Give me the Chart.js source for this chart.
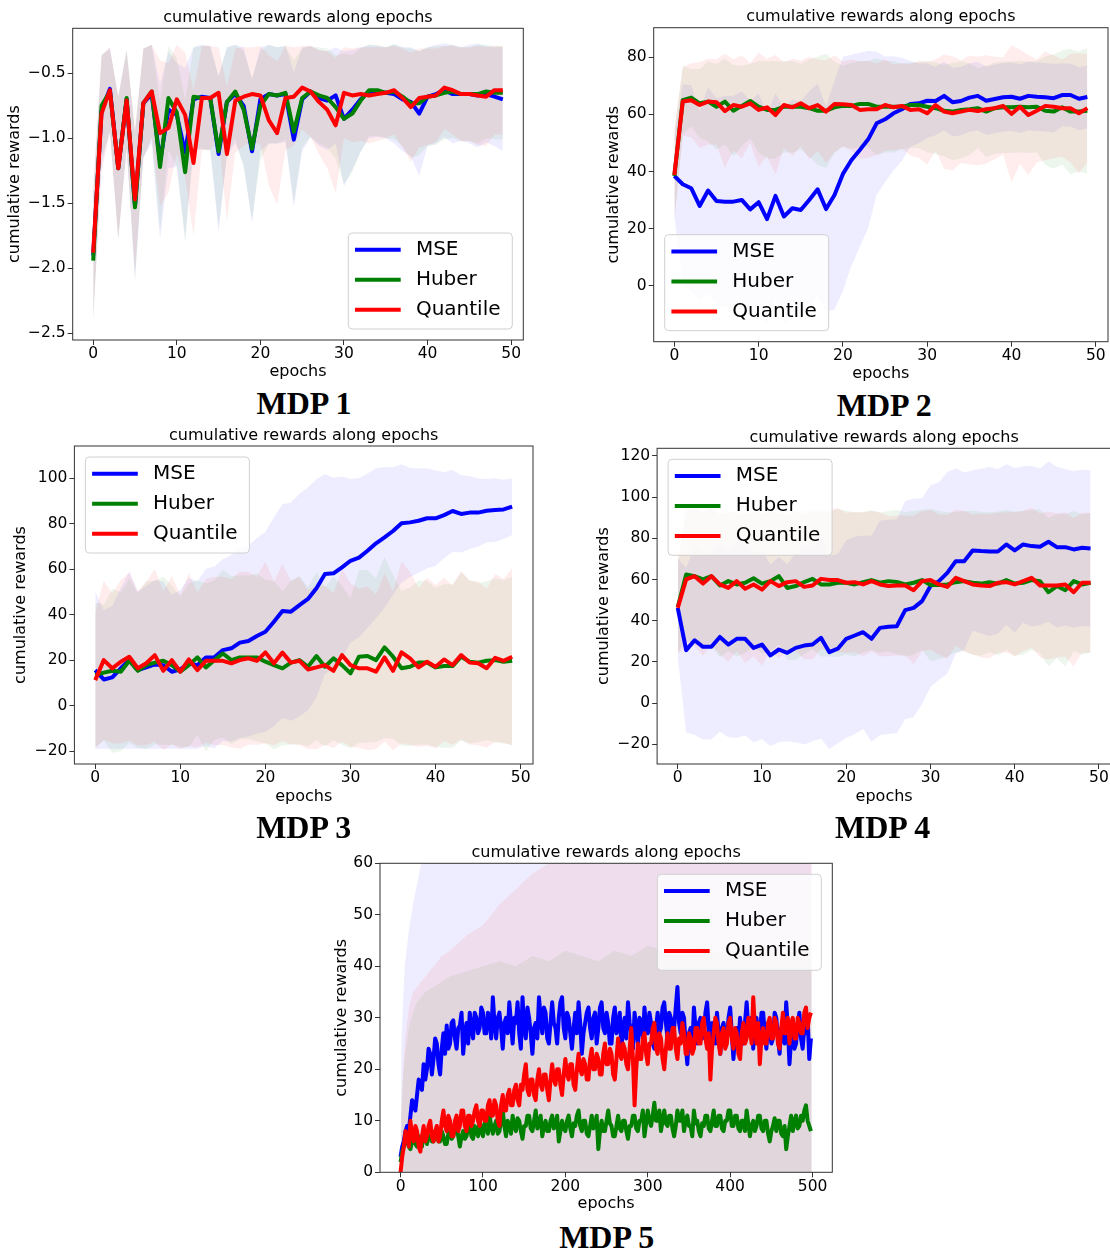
<!DOCTYPE html>
<html>
<head>
<meta charset="utf-8">
<script src="https://cdn.jsdelivr.net/npm/chart.js@4.4.0/dist/chart.umd.min.js"></script>
<style>
  html, body { margin: 0; padding: 0; background: #fff; }
  body { position: relative; width: 1110px; height: 1251px; overflow: hidden; }
  canvas { position: absolute; }
  .cap { position: absolute; font: bold 32px "Liberation Serif", "Times New Roman", serif; line-height: 1;
         color: #000; transform: translate(-50%, -50%); white-space: nowrap; }
</style>
</head>
<body>
<script>
// ---- data ----
const seriesNames = ['MSE', 'Huber', 'Quantile'];
const epochs = Array.from({length: 50}, (_, i) => i);
const epochs5 = Array.from({length: 250}, (_, i) => i * 2);

// MDP 1
const mse1 = [-1.90,-0.79,-0.62,-1.23,-0.70,-1.52,-0.73,-0.66,-1.18,-0.78, -0.82,-1.11,-0.70,-0.68,-0.69,-1.12,-0.72,-0.66,-0.75,-1.10,
  -0.70,-0.66,-0.67,-0.66,-1.01,-0.70,-0.64,-0.69,-0.71,-0.67, -0.85,-0.78,-0.70,-0.64,-0.64,-0.65,-0.66,-0.70,-0.72,-0.81,
  -0.68,-0.66,-0.63,-0.66,-0.66,-0.66,-0.67,-0.66,-0.68,-0.70];
const huber1 = [-1.94,-0.75,-0.64,-1.23,-0.69,-1.53,-0.73,-0.64,-1.22,-0.69, -0.80,-1.26,-0.68,-0.69,-0.69,-1.10,-0.72,-0.64,-0.78,-1.08,
  -0.75,-0.66,-0.67,-0.65,-0.95,-0.69,-0.64,-0.67,-0.69,-0.76, -0.85,-0.81,-0.71,-0.63,-0.63,-0.65,-0.64,-0.68,-0.73,-0.73,
  -0.68,-0.67,-0.65,-0.64,-0.66,-0.66,-0.66,-0.64,-0.65,-0.65];
const quant1 = [-1.88,-0.81,-0.63,-1.23,-0.71,-1.47,-0.73,-0.64,-0.96,-0.92, -0.70,-0.82,-1.19,-0.69,-0.69,-0.65,-1.12,-0.71,-0.68,-0.66,
  -0.67,-0.86,-0.96,-0.69,-0.68,-0.61,-0.64,-0.72,-0.78,-0.90, -0.65,-0.67,-0.66,-0.67,-0.66,-0.65,-0.63,-0.69,-0.76,-0.69,
  -0.68,-0.67,-0.61,-0.63,-0.66,-0.66,-0.67,-0.68,-0.63,-0.63];
const mseStd1 = [0.50,0.42,0.32,0.55,0.38,0.57,0.42,0.38,0.60,0.45, 0.40,0.65,0.40,0.40,0.40,0.60,0.42,0.38,0.45,0.55,
  0.40,0.38,0.37,0.37,0.52,0.40,0.35,0.37,0.38,0.37, 0.52,0.46,0.40,0.36,0.35,0.35,0.38,0.40,0.42,0.48,
  0.38,0.38,0.36,0.38,0.36,0.38,0.40,0.37,0.38,0.40];
const huberStd1 = [0.50,0.40,0.32,0.55,0.38,0.57,0.42,0.36,0.50,0.40, 0.42,0.55,0.38,0.40,0.40,0.58,0.42,0.36,0.45,0.55,
  0.42,0.38,0.37,0.36,0.55,0.38,0.35,0.37,0.38,0.40, 0.50,0.45,0.40,0.35,0.35,0.35,0.37,0.38,0.42,0.40,
  0.38,0.38,0.36,0.36,0.36,0.36,0.38,0.36,0.36,0.36];
const quantStd1 = [0.50,0.45,0.33,0.55,0.38,0.55,0.42,0.36,0.56,0.50, 0.42,0.48,0.56,0.40,0.40,0.35,0.52,0.40,0.38,0.36,
  0.38,0.50,0.55,0.40,0.38,0.32,0.35,0.40,0.45,0.52, 0.35,0.36,0.36,0.37,0.36,0.35,0.34,0.38,0.42,0.38,
  0.37,0.36,0.32,0.34,0.36,0.36,0.38,0.38,0.34,0.34];

// MDP 2
const mse2 = [38.5,35.6,34.2,28.0,33.4,29.7,29.5,29.5,30.1,26.8, 29.3,23.4,31.5,24.3,27.2,26.6,30.1,33.8,26.9,31.8,
  39.2,44.0,47.6,51.3,56.9,58.3,60.4,61.8,63.7,63.9, 64.8,64.7,66.5,64.3,64.7,65.9,66.5,64.8,65.4,66.0,
  66.2,65.5,66.5,66.2,66.0,65.7,66.8,66.8,65.5,66.1];
const huber2 = [38.5,65.0,65.9,63.9,64.5,62.7,64.5,61.3,63.0,64.7, 62.7,61.6,61.6,62.7,62.7,62.7,62.2,61.3,61.3,62.5,
  63.0,63.0,63.7,63.7,62.7,62.7,62.7,62.7,63.3,63.3, 62.7,62.2,61.3,61.0,61.6,61.8,62.2,61.0,62.2,62.5,
  62.5,62.7,62.5,62.7,61.3,61.0,62.5,61.0,61.0,61.3];
const quant2 = [38.8,64.5,65.0,63.3,64.5,64.3,61.2,63.3,62.7,63.9, 61.6,62.5,59.8,63.3,62.5,63.9,62.2,63.3,61.0,63.7,
  63.6,63.3,61.6,61.8,61.8,63.3,62.5,63.0,61.6,61.8, 60.4,63.3,61.0,60.4,61.0,61.6,61.2,61.8,62.2,63.0,
  60.2,62.7,59.8,61.3,63.0,62.7,62.2,62.2,60.4,62.2];
const mseStd2 = [14,35,36,33,36,36,37,37,38,38, 38,37,36,38,38,38,38,37,36,40, 41,37,34,31,25,22,20,18,15,14,
  13,12,12,12,12,12,12,12,12,12, 12,12,12,12,12,12,11,11,11,11];
const huberStd2 = [16,12,10,12,14,15,15,16,14,13, 16,17,17,16,16,15,17,19,20,16, 14,15,15,15,17,16,16,15,15,15,
  16,16,16,17,17,16,14,16,16,16, 16,16,16,16,19,20,20,22,21,22];
const quantStd2 = [16,12,13,15,15,15,20,16,18,14, 20,17,21,15,17,15,18,16,18,17, 15,16,17,17,16,16,15,15,16,17,
  18,16,20,20,18,19,19,19,18,17, 24,20,21,18,19,18,17,19,21,19];

// MDP 3
const mse3 = [15.6,11.5,12.4,16.4,20.0,15.6,16.8,18.1,17.8,14.9, 15.9,18.6,17.8,21.2,21.2,24.4,25.2,27.7,28.4,30.6,
  32.5,36.9,41.6,41.3,44.2,46.9,51.6,57.9,58.2,60.8, 63.7,65.1,68.1,71.4,74.0,76.8,80.2,80.6,81.3,82.4,
  82.4,83.8,85.6,84.3,84.9,84.9,85.7,86.0,86.3,87.5];
const huber3 = [13.4,14.5,15.3,14.9,19.7,15.3,17.8,18.9,19.7,17.8, 14.9,17.8,21.2,16.8,20.0,22.9,20.0,21.2,21.2,21.2,
  19.3,17.8,16.4,18.9,20.0,17.1,21.8,17.1,20.8,17.8, 14.2,21.5,21.8,20.0,25.6,21.5,16.4,17.1,18.9,18.9,
  16.8,17.4,17.4,21.5,19.3,18.9,19.7,20.0,19.3,19.7];
const quant3 = [11.2,20.0,16.4,19.3,21.5,16.4,18.6,22.2,15.3,20.0, 14.9,20.3,15.6,19.7,19.7,19.7,18.6,20.0,20.8,19.7,
  23.4,18.6,23.3,18.9,19.7,15.9,16.8,17.8,15.3,22.2, 17.8,16.4,16.4,14.9,21.2,15.3,23.4,20.8,16.8,19.3,
  17.1,20.3,17.8,22.2,18.9,18.6,16.4,21.0,19.7,21.5];
const mseStd3 = [34.6,30.5,31.4,35.4,39,34.6,35.8,37.1,36.8,33.9, 34.9,37.6,36.8,39,40,40,41,42,42,43,
  44,46,47,48,49,49,48,44,42,40, 36,35,34,33,31,28,26,24,23,22, 21,19,18,17,16,15,14,14,13,12.5];
const huberStd3 = [32,30,36,35,36,34,37,36,37,35, 33,36,34,37,35,37,37,36,36,37, 36,37,34,36,37,35,37,35,36,35,
  33,38,38,36,40,36,34,35,36,36, 35,36,36,37,36,35,35,36,36,37];
const quantStd3 = [30,35,33,36,37,34,36,38,35,37, 34,38,34,36,37,37,37,39,38,37, 40,36,39,36,37,35,36,35,34,38,
  36,35,36,34,37,35,40,38,35,37, 36,36,35,37,36,36,35,37,36,39];

// MDP 4
const mse4 = [46.2,25.7,30.5,27.3,27.3,32.1,28.4,31.2,31.2,26.8, 28.4,23.1,26.0,24.4,26.8,27.9,28.4,31.7,24.7,26.4,
  31.2,32.8,34.4,31.2,36.5,37.0,37.3,45.1,46.2,49.5, 56.8,59.2,63.2,68.9,68.9,74.1,73.8,73.6,73.6,77.0,
  74.1,77.0,76.2,75.9,78.3,75.7,75.7,74.6,75.4,75.1];
const huber4 = [46.5,62.4,61.6,60.0,61.6,57.1,59.2,57.6,58.4,60.6, 58.0,59.2,61.6,55.9,56.8,58.7,60.3,57.6,57.6,58.4,
  58.4,57.6,58.7,59.7,58.4,59.2,58.8,57.6,58.4,59.7, 57.3,57.3,57.6,58.7,59.2,58.4,58.0,58.7,58.0,59.7,
  58.0,58.4,59.7,59.2,53.8,56.8,54.8,59.2,57.6,58.4];
const quant4 = [46.2,60.0,61.6,58.0,61.6,57.6,55.9,59.2,55.5,57.6, 55.1,59.2,56.8,58.7,59.2,56.4,57.1,60.3,59.7,59.7,
  58.4,58.7,57.6,59.2,57.6,56.8,57.1,57.1,54.8,59.2, 59.7,57.6,56.4,60.8,59.2,57.6,57.1,56.8,58.4,58.7,
  57.6,59.2,60.8,57.1,57.1,57.1,57.6,53.8,58.4,58.4];
const mseStd4 = [24,40,46,45,45,46,45,48,47,46, 46,44,45,43,46,48,47,49,47,46, 48,48,47,50,52,52,52,53,53,50,
  49,48,49,45,43,39,40,41,40,39, 40,38,39,38,39,39,38,38,38,38];
const huberStd4 = [22,32,33,33,34,35,34,35,34,33, 34,34,33,35,36,35,34,35,35,36, 35,35,34,34,34,34,35,35,35,34,
  37,36,35,34,34,35,35,34,35,34, 35,35,34,35,36,35,37,34,34,34];
const quantStd4 = [22,33,34,35,33,34,36,34,36,35, 37,34,35,34,34,35,36,34,34,35, 34,34,35,34,35,34,34,34,36,34,
  34,34,35,33,34,34,35,35,34,34, 35,34,34,35,36,35,35,36,34,34];

// MDP 5 (every 2nd epoch)
const mse5 = [
  3,5,6,8,9,8,11,14,13.5,12,15,18,17,16,21,18,20,24,23,19,
  22,26,25,21,19,24,27,23,28.5,24,25,29,29.5,26,24,28,28.5,31,23,27,
  29,25,31,28,26,31,30,27,28,32,31,27,27,31,30,26,34,29,26,30,
  31,28,24,29,30,27,33,29,25,30,29,33,27,24,34,28,26,32,30,27,
  23,28,29,26,34,30,27,32,31,26,25,29,33,29,28,25,30,33,34,28,
  26,31,30,27,24,28,31,27,33,29,23,27,29,31,32,28,26,30,31,25,
  28,32,33,28,27,31,29,25,25,30,32,27,28,31,24,28,30,26,33,29,
  27,24,31,28,25,30,29,26,32,28,27,31,29,25,24,28,31,27,28,32,
  33,29,26,31,30,27,28,32,36,29,27,31,30,25,21,27,28,24,32,28,
  25,29,30,26,27,31,33,28,24,29,28,25,31,27,23,28,29,25,26,30,
  32,27,22,27,28,25,30,26,25,29,33,28,27,30,24,29,30,25,26,31,
  31,27,24,29,28,25,26,31,30,26,23,28,27,25,33,28,21,26,28,24,
  25,29,31,26,24,28,27,30,22,26];
const huber5 = [
  2,4,5,7,6,5,4.5,6,7,5.5,5,7,6.5,5,8,6.5,5.5,7,7,6,
  6,7.5,8.5,6,6,8,7,5.5,5.5,7.5,8,6.5,7,8.5,9,7,5,7,8,6.5,
  7,8.5,9.5,7,6.5,9,8,7,10,8,7,9.5,9,7.5,11,9,7.5,9,10,7.5,
  8,10,12,9,7,10,9,7.5,11,9,8,10.5,10,8,6.5,9,9,11,11,8.5,
  8,10,12,8.5,9,11,7,9,10,8,8,10,11,8.5,9,11,6,8,10,8.5,
  8,10,11,8.5,7,9.5,9,11,12,9,8,10,10,7.5,7,9,11,8.5,9,11,
  4.5,8,10,8,8,10,12,9.5,9,7,7,9,11,8.5,8,10,10,8,6.5,9,
  9,11,11,8.5,8,10,10,12,7,9.5,12,10,9,11,13.5,10,10,12,8,10,
  12,9.5,9,11,11,8.5,7,9,12,10,10,12,8,10,11,9,9,7,12,9.5,
  10,8,7,9.5,9,11,11,8.5,8,10,12,9,9,11,11,8.5,8,10,10,12,
  12,9,9,11,11,8.5,8,10,10,8,12,9.5,7,9,10,8,9,11,11,8.5,
  8,10,10,7.5,6,8,9,10.5,8,10,10,7.5,7,9,4.5,7,9,11,8,10,
  11,8.5,9,11,10,12,13,10,9,8];
const quant5 = [
  0,3,5,8,7,5,10,7,6,9,8,5,4,7,9,6,7,9,10,7,
  6,8,9,6,7,10,12,9,8,11,10,7,7,10,11,8,9,12,12,9,
  8,11,11,9,10,12,13,10,9,12,12,10,10,13,14,11,11,14,13,10,
  9,13,15,12,12,15,16,13,13,16,17,14,13,17,16,19,21,16,15,18,
  18,15,14,18,20,17,16,19,19,16,14,18,21,18,17,20,20,17,15,19,
  22,19,18,21,21,17,16,20,23,20,19,22,21,18,18,22,24,20,20,23,
  22,19,19,23,25,21,21,24,23,19,18,22,26,23,22,25,24,21,20,24,
  28,22,13,20,25,22,22,26,27,23,21,25,25,28,29,24,23,27,26,22,
  20,24,27,24,24,28,28,24,22,26,25,29,27,23,23,27,26,23,24,28,
  28,25,25,29,30,26,24,27,18,24,27,30,29,25,23,27,28,24,25,29,
  30,26,24,28,27,23,22,27,29,25,26,30,28,25,34,28,25,29,21,26,
  28,25,25,29,30,26,26,30,29,25,24,28,31,27,27,30,25,29,30,26,
  26,30,29,27,27,31,32,28,30,31];
const bandEpochs5 = [0,1,3,5,10,15,20,25,30,40,50,60,80,100,120,140,160,180,200,220,240,260,280,300,320,340,360,380,400,420,440,460,480,499];
const mseUpper5 = [3,25,33,40,47,52,56,60,64,68,71,73,75,76,77,76,78,77,76,78,77,76,77,78,76,77,76,75,76,75,76,75,76,75];
const mseLower5 = [3,-10,-12,-14,-15,-16,-17,-18,-19,-19,-20,-20,-20,-20,-20,-20,-20,-20,-20,-20,-20,-20,-20,-20,-20,-20,-20,-20,-20,-20,-20,-20,-20,-20];
const huberUpper5 = [2,12,18,22,28,31,33,34,35,36,37,38,39,40,41,40,42,41,43,42,41,43,42,44,43,42,44,43,42,43,44,42,43,44];
const huberLower5 = [2,-6,-8,-10,-14,-16,-18,-19,-20,-21,-22,-22,-23,-23,-24,-24,-24,-24,-24,-24,-24,-24,-24,-24,-24,-24,-24,-24,-24,-24,-24,-24,-24,-24];
const quantUpper5 = [0,12,20,25,32,35,36,37,38,40,42,43,46,48,52,55,58,60,61,62,61,63,62,64,63,62,63,64,62,63,64,62,63,62];
const quantLower5 = [0,-6,-8,-10,-14,-15,-16,-16,-17,-17,-18,-18,-17,-16,-16,-15,-15,-15,-14,-14,-14,-13,-13,-13,-13,-13,-13,-12,-12,-12,-12,-12,-12,-12];

// tick labels
const xTicks50 = [0, 10, 20, 30, 40, 50];
const xTicks500 = [0, 100, 200, 300, 400, 500];
const yTicks1 = [-2.5, -2.0, -1.5, -1.0, -0.5];
const yTicks2 = [0, 20, 40, 60, 80];
const yTicks3 = [-20, 0, 20, 40, 60, 80, 100];
const yTicks4 = [-20, 0, 20, 40, 60, 80, 100, 120];
const yTicks5 = [0, 10, 20, 30, 40, 50, 60];

// ---- drawing ----
const lineColors = {MSE: '#0000ff', Huber: '#008000', Quantile: '#ff0000'};
const bandColors = {MSE: 'rgba(0,0,255,0.07)', Huber: 'rgba(0,128,0,0.07)', Quantile: 'rgba(255,0,0,0.07)'};
const FAMILY = '"DejaVu Sans", sans-serif';
const LH = 16 * 1.2;

Chart.defaults.font.family = FAMILY;
Chart.defaults.color = '#000';

function pts(xs, ys) { return xs.map((x, i) => ({x: x, y: ys[i]})); }
function minus(s) { return String(s).replace('-', '\u2212'); }

function bandSets(name, xs, lo, hi, order) {
  return [
    {data: pts(xs, lo), borderWidth: 0, pointRadius: 0, fill: false, order: order},
    {data: pts(xs, hi), borderWidth: 0, pointRadius: 0, fill: '-1', backgroundColor: bandColors[name], order: order}
  ];
}
function stdBands(name, xs, mean, std, order) {
  return bandSets(name, xs, mean.map((m, i) => m - std[i]), mean.map((m, i) => m + std[i]), order);
}
function lineSet(name, xs, ys, order) {
  return {label: name, legendItem: true, data: pts(xs, ys), borderColor: lineColors[name], borderWidth: 4,
          pointRadius: 0, fill: false, tension: 0, borderJoinStyle: 'round', order: order};
}

const frame = {
  id: 'frame',
  afterDraw(chart) {
    const {ctx, chartArea: a} = chart;
    ctx.save();
    ctx.strokeStyle = '#333';
    ctx.lineWidth = 1;
    ctx.strokeRect(a.left, a.top, a.right - a.left, a.bottom - a.top);
    ctx.restore();
  }
};

const boxLegend = {
  id: 'boxLegend',
  afterDraw(chart, args, opts) {
    const {ctx, chartArea: a} = chart;
    const w = 164, h = 96, gap = 11;
    const x = opts.corner.includes('l') ? a.left + gap : a.right - gap - w;
    const y = opts.corner.includes('t') ? a.top + gap : a.bottom - gap - h;
    ctx.save();
    ctx.beginPath();
    ctx.roundRect(x, y, w, h, 4);
    ctx.fillStyle = 'rgba(255,255,255,0.8)';
    ctx.fill();
    ctx.strokeStyle = '#d0d0d0';
    ctx.lineWidth = 1;
    ctx.stroke();
    ctx.font = '20px ' + FAMILY;
    ctx.textBaseline = 'middle';
    chart.data.datasets.filter(d => d.legendItem).forEach((d, i) => {
      const yy = y + 16.7 + i * 30;
      ctx.beginPath();
      ctx.moveTo(x + 6.7, yy);
      ctx.lineTo(x + 52.4, yy);
      ctx.strokeStyle = d.borderColor;
      ctx.lineWidth = 4;
      ctx.stroke();
      ctx.fillStyle = '#000';
      ctx.fillText(d.label, x + 67.6, yy);
    });
    ctx.restore();
  }
};

function panel(p) {
  const cx = Math.floor(p.ylabelX - LH / 2 - 2);
  const cy = Math.floor(p.titleY - LH / 2 - 2);
  const cw = Math.ceil(p.R + 25 - cx);
  const ch = Math.ceil(p.xlabelY + LH / 2 + 3 - cy);
  const canvas = document.createElement('canvas');
  canvas.width = cw; canvas.height = ch;
  canvas.style.left = cx + 'px'; canvas.style.top = cy + 'px';
  canvas.style.width = cw + 'px'; canvas.style.height = ch + 'px';
  document.body.appendChild(canvas);

  const cap = document.createElement('div');
  cap.className = 'cap';
  cap.textContent = p.caption;
  cap.style.left = p.capX + 'px'; cap.style.top = p.capY + 'px';
  document.body.appendChild(cap);

  const grid = {drawOnChartArea: false, drawTicks: true, tickLength: 5, color: '#333', lineWidth: 1};
  new Chart(canvas, {
    type: 'line',
    data: {datasets: p.datasets},
    options: {
      responsive: false, animation: false, devicePixelRatio: 1,
      layout: {padding: {left: p.ylabelX - LH / 2 - cx, top: 0, right: cx + cw - p.R, bottom: cy + ch - (p.xlabelY + LH / 2)}},
      plugins: {
        legend: {display: false}, tooltip: {enabled: false},
        title: {display: true, fullSize: false, text: 'cumulative rewards along epochs', font: {size: 16, weight: 'normal'},
                padding: {top: p.titleY - LH / 2 - cy, bottom: Math.max(0, p.T - (p.titleY + LH / 2))}},
        boxLegend: {corner: p.corner}
      },
      scales: {
        x: {
          type: 'linear', min: p.xMin, max: p.xMax,
          grid: grid, border: {display: false},
          ticks: {font: {size: 15.5}, padding: 0, autoSkip: false, maxRotation: 0, callback: v => minus(v)},
          title: {display: true, text: 'epochs', font: {size: 16}, padding: 0},
          afterBuildTicks: s => { s.ticks = p.xTicks.map(v => ({value: v})); },
          afterFit: s => { s.height = p.xlabelY + LH / 2 - p.B; }
        },
        y: {
          type: 'linear', min: p.yMin, max: p.yMax,
          grid: grid, border: {display: false},
          ticks: {font: {size: 15.5}, padding: 2, autoSkip: false, callback: p.fmt},
          title: {display: true, text: 'cumulative rewards', font: {size: 16}, padding: 0},
          afterBuildTicks: s => { s.ticks = p.yTicks.map(v => ({value: v})); },
          afterFit: s => { s.width = p.L - (p.ylabelX - LH / 2); }
        }
      }
    },
    plugins: [frame, boxLegend]
  });
}

function std4(xs, m, h, q, ms, hs, qs) {
  return [].concat(
    stdBands('MSE', xs, m, ms, 10), stdBands('Huber', xs, h, hs, 9), stdBands('Quantile', xs, q, qs, 8),
    [lineSet('MSE', xs, m, 2), lineSet('Huber', xs, h, 1), lineSet('Quantile', xs, q, 0)]);
}
const intFmt = v => minus(v);

panel({caption: 'MDP 1', capX: 304, capY: 403.3, L: 72.7, T: 28.3, R: 523.3, B: 340,
  titleY: 18.3, xlabelY: 371.7, ylabelX: 14.5, xMin: -2.45, xMax: 51.45, yMin: -2.551, yMax: -0.154,
  xTicks: xTicks50, yTicks: yTicks1, fmt: v => minus(v.toFixed(1)), corner: 'br',
  datasets: std4(epochs, mse1, huber1, quant1, mseStd1, huberStd1, quantStd1)});

panel({caption: 'MDP 2', capX: 884.3, capY: 405, L: 653.7, T: 27.7, R: 1108, B: 341.7,
  titleY: 17.3, xlabelY: 374, ylabelX: 613.8, xMin: -2.45, xMax: 51.45, yMin: -19.5, yMax: 90.35,
  xTicks: xTicks50, yTicks: yTicks2, fmt: intFmt, corner: 'bl',
  datasets: std4(epochs, mse2, huber2, quant2, mseStd2, huberStd2, quantStd2)});

panel({caption: 'MDP 3', capX: 303.7, capY: 827.3, L: 74.4, T: 446, R: 533, B: 764,
  titleY: 435.7, xlabelY: 796.7, ylabelX: 20.7, xMin: -2.45, xMax: 51.45, yMin: -25.7, yMax: 114.2,
  xTicks: xTicks50, yTicks: yTicks3, fmt: intFmt, corner: 'tl',
  datasets: std4(epochs, mse3, huber3, quant3, mseStd3, huberStd3, quantStd3)});

panel({caption: 'MDP 4', capX: 882.6, capY: 827.3, L: 657.1, T: 448.3, R: 1111.2, B: 764,
  titleY: 438.3, xlabelY: 796.7, ylabelX: 604.3, xMin: -2.45, xMax: 51.45, yMin: -29.6, yMax: 123.7,
  xTicks: xTicks50, yTicks: yTicks4, fmt: intFmt, corner: 'tl',
  datasets: std4(epochs, mse4, huber4, quant4, mseStd4, huberStd4, quantStd4)});

panel({caption: 'MDP 5', capX: 606.7, capY: 1236.7, L: 380, T: 863.3, R: 832.3, B: 1172.3,
  titleY: 853.3, xlabelY: 1204, ylabelX: 341.7, xMin: -24.95, xMax: 523.95, yMin: 0, yMax: 60,
  xTicks: xTicks500, yTicks: yTicks5, fmt: intFmt, corner: 'tr',
  datasets: [].concat(
    bandSets('MSE', bandEpochs5, mseLower5, mseUpper5, 10),
    bandSets('Huber', bandEpochs5, huberLower5, huberUpper5, 9),
    bandSets('Quantile', bandEpochs5, quantLower5, quantUpper5, 8),
    [lineSet('MSE', epochs5, mse5, 2), lineSet('Huber', epochs5, huber5, 1), lineSet('Quantile', epochs5, quant5, 0)])});
</script>
</body>
</html>
